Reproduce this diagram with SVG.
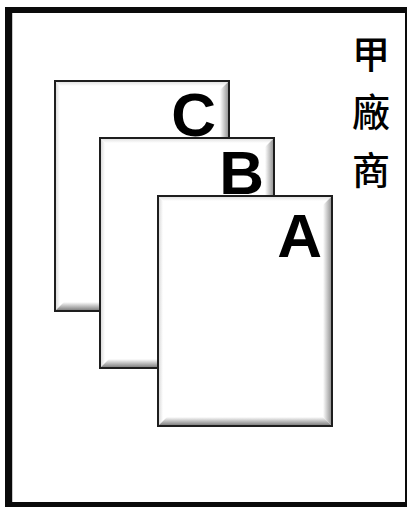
<svg xmlns="http://www.w3.org/2000/svg" xmlns:xlink="http://www.w3.org/1999/xlink" width="410" height="508" viewBox="0 0 410 508">
  <style>
    .letter { font-family: "Liberation Sans", Arial, sans-serif; font-weight: bold; font-size: 62px; fill: #000; text-anchor: end; }
    .cjk { font-family: "Noto Sans CJK TC", "Noto Sans CJK SC", serif; font-size: 38px; font-weight: 500; fill: #000; text-anchor: middle; }
  </style>
  <defs>
    <linearGradient id="gRight" x1="0" y1="0" x2="1" y2="0">
      <stop offset="0" stop-color="#ffffff"/>
      <stop offset="1" stop-color="#8c8c8c"/>
    </linearGradient>
    <linearGradient id="gBottom" x1="0" y1="0" x2="0" y2="1">
      <stop offset="0" stop-color="#ffffff"/>
      <stop offset="1" stop-color="#747474"/>
    </linearGradient>
    <linearGradient id="gLeft" x1="1" y1="0" x2="0" y2="0">
      <stop offset="0" stop-color="#ffffff"/>
      <stop offset="1" stop-color="#d4d4d4"/>
    </linearGradient>
    <linearGradient id="gTop" x1="0" y1="1" x2="0" y2="0">
      <stop offset="0" stop-color="#ffffff"/>
      <stop offset="1" stop-color="#dcdcdc"/>
    </linearGradient>
    <g id="cardShape">
      <rect x="0" y="0" width="176" height="232" fill="#ffffff"/>
      <polygon points="1,1 175,1 170,6 6,6" fill="url(#gTop)"/>
      <polygon points="1,1 6,6 6,226 1,231" fill="url(#gLeft)"/>
      <polygon points="175,1 175,231 166,222 166,10" fill="url(#gRight)"/>
      <polygon points="1,231 175,231 166,222 10,222" fill="url(#gBottom)"/>
      <rect x="1" y="1" width="174" height="230" fill="none" stroke="#1e1e1e" stroke-width="2"/>
    </g>
  </defs>

  <g id="frame">
    <rect x="5" y="7" width="402" height="500" fill="#0a0a0a"/>
    <rect x="12" y="13" width="393" height="489" fill="#ffffff"/>
    <line x1="12.5" y1="13" x2="12.5" y2="502" stroke="#c8c8c8" stroke-width="1"/>
  </g>

  <g id="label">
    <text class="cjk" x="371" y="68">甲</text>
    <text class="cjk" x="371" y="126">廠</text>
    <text class="cjk" x="371" y="184">商</text>
  </g>

  <g id="connectors"></g>

  <g id="card-C">
    <use xlink:href="#cardShape" x="54" y="80"/>
    <text class="letter" x="216" y="136">C</text>
  </g>
  <g id="card-B">
    <use xlink:href="#cardShape" x="99" y="137"/>
    <text class="letter" x="264" y="194">B</text>
  </g>
  <g id="card-A">
    <use xlink:href="#cardShape" x="157" y="195"/>
    <text class="letter" x="322" y="257">A</text>
  </g>
</svg>
